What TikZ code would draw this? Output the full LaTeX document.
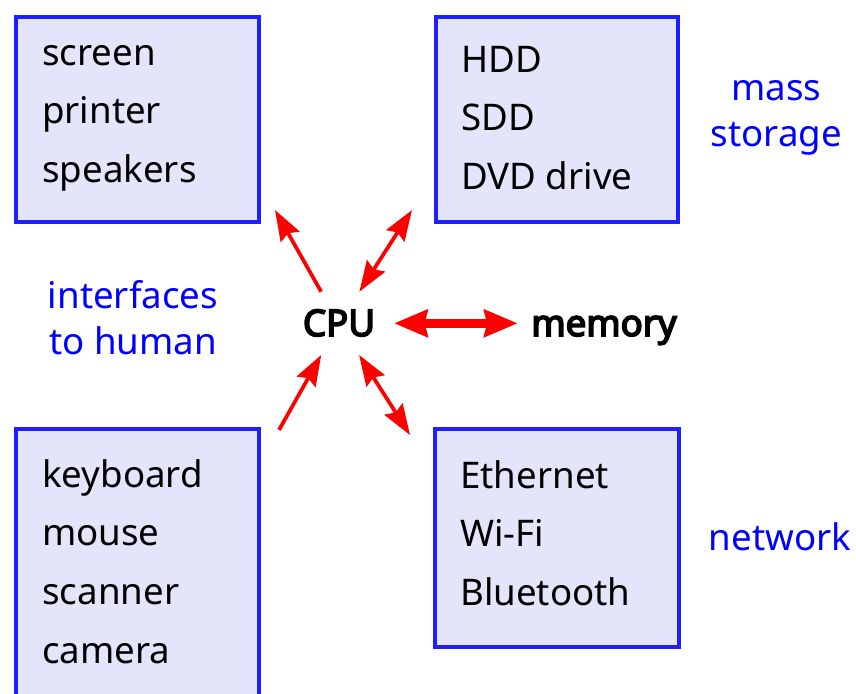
\documentclass[tikz,border=0pt]{standalone}
\usepackage{fontspec}
\setmainfont{Noto Sans}
\newfontfamily\unitfont{Noto Sans}[FakeBold=4.5]
\usepackage{tikz}
\usetikzlibrary{arrows.meta}
\definecolor{boxfill}{RGB}{228,228,250}
\definecolor{boxline}{RGB}{30,30,255}

\begin{document}
\begin{tikzpicture}[x=0.75pt, y=-0.75pt,
		box/.style={draw=boxline, line width=3pt, fill=boxfill, anchor=north west, inner sep=0pt},
		list/.style={anchor=north west, inner sep=0pt, align=left, font=\fontsize{27.5}{44}\selectfont},
		lbl/.style={inner sep=0pt, align=center, text=blue, font=\fontsize{27.5}{34.5}\selectfont},
		unit/.style={anchor=base, font=\unitfont\fontsize{27.5}{31}\selectfont, text height=19pt, text depth=0pt, inner ysep=14pt},
		arr/.style={red, line width=2.8pt, >={Stealth[length=23pt, width=16pt, inset=3pt]}},
		bigarr/.style={red, line width=6.5pt, >={Stealth[length=25pt, width=20pt, inset=2pt]}}]
				\useasboundingbox (0,0) rectangle (856,693);
				\clip (0,0) rectangle (856,693);

				\node[box, minimum width=181.9pt, minimum height=153.75pt] (outbox) at (14,15) {};
				\node[box, minimum width=181.5pt, minimum height=153.75pt] (storbox) at (434,15) {};
				\node[box, minimum width=181.9pt, minimum height=219.75pt] (inbox) at (14,427) {};
				\node[box, minimum width=183pt, minimum height=163.5pt] (netbox) at (433,427) {};

				\node[list] (outlist) at (42,23.9) {\strut screen\\printer\\speakers};
				\node[list] (storlist) at (461,30.9) {\strut HDD\\SDD\\DVD drive};
				\node[list] (inlist) at (42,445.9) {\strut keyboard\\mouse\\scanner\\camera};
				\node[list] (netlist) at (460,446.9) {\strut Ethernet\\Wi-Fi\\Bluetooth};

				\node[lbl, anchor=north] (massl) at (776.5,67.8) {\strut mass\\storage};
				\node[lbl, anchor=north] (huml) at (133,275.8) {\strut interfaces\\to human};
				\node[lbl, anchor=base] (netl) at (780,550) {network};

				\node[unit, inner xsep=14pt] (cpu) at (339,336) {CPU};
				\node[unit, inner xsep=10pt] (mem) at (604,336) {memory};

				\coordinate (tohum) at (275,210);
				\coordinate (tostor) at (412,210);
				\coordinate (fromhum) at (279,430);
				\coordinate (tonet) at (410,435);

				\draw[arr, ->] (cpu) -- (tohum);
				\draw[arr, <->] (cpu) -- (tostor);
				\draw[arr, ->] (fromhum) -- (cpu);
				\draw[arr, <->] (cpu) -- (tonet);
				\draw[bigarr, <->] (cpu) -- (mem);

			\end{tikzpicture}
\end{document}
